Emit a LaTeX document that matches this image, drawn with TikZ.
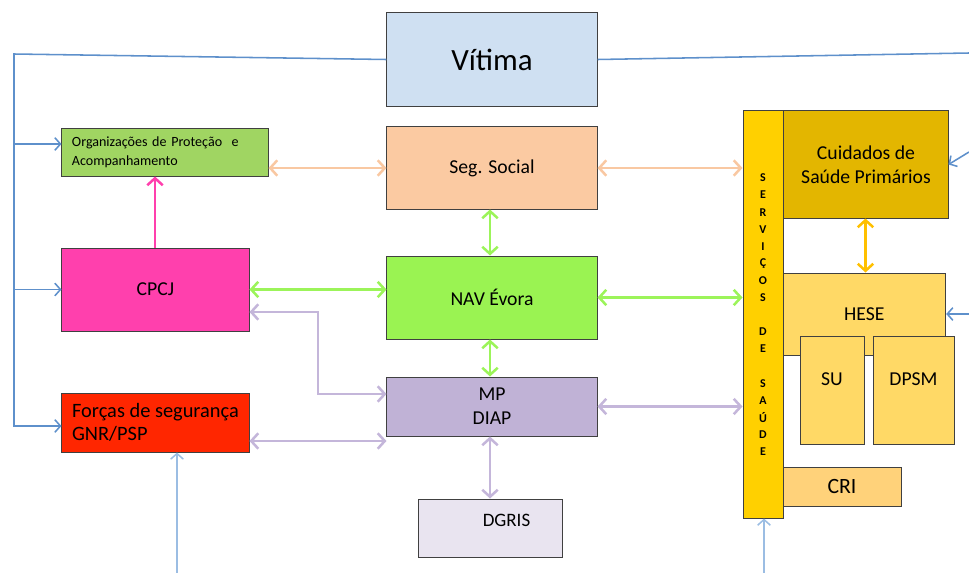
\documentclass[tikz,border=0pt]{standalone}
\usepackage{fontspec}
\setmainfont{Carlito}
\usetikzlibrary{arrows.meta,calc}

\definecolor{corvitima}{HTML}{CFE0F2}
\definecolor{cororg}{HTML}{A0D562}
\definecolor{corseg}{HTML}{FBCAA2}
\definecolor{corcpcj}{HTML}{FF40AD}
\definecolor{cornav}{HTML}{9AF352}
\definecolor{cormp}{HTML}{C0B2D6}
\definecolor{corforcas}{HTML}{FF2600}
\definecolor{cordgris}{HTML}{E9E4F0}
\definecolor{corsrv}{HTML}{FFD000}
\definecolor{corcsp}{HTML}{E3B600}
\definecolor{corhese}{HTML}{FFD966}
\definecolor{corcri}{HTML}{FFD27A}
\definecolor{linhaazul}{HTML}{5E90CB}
\definecolor{azulclaro}{HTML}{9BBDE3}
\definecolor{setapeach}{HTML}{F9C8A2}
\definecolor{setaverde}{HTML}{9CF45A}
\definecolor{setalilas}{HTML}{C4B6DA}
\definecolor{setaamarela}{HTML}{FFC000}

\tikzset{
caixa/.style={draw=black!75,line width=0.7pt,inner sep=2pt,font=\fontsize{14}{17}\selectfont},
azul/.style={draw=linhaazul,line width=1.1pt,>={Straight Barb[length=4pt,width=9pt]}},
seta/.style={line width=1.8pt,>={Straight Barb[length=5pt,width=11pt]}},
letra/.style={font=\fontsize{8.5}{9}\bfseries,inner sep=0pt}
}

\begin{document}
\begin{tikzpicture}[x=0.025cm,y=-0.025cm]
\useasboundingbox (0,0) rectangle (969,573);

% coluna do meio
\node[caixa,fill=corvitima,minimum width=5.25cm,minimum height=2.325cm,font=\fontsize{22}{26}\selectfont] (vitima) at (492,59.5) {Vítima};
\node[caixa,fill=corseg,minimum width=5.25cm,minimum height=2.05cm] (seg) at (492,168) {Seg. Social};
\node[caixa,fill=cornav,minimum width=5.25cm,minimum height=2.075cm] (nav) at (492,297.5) {NAV Évora};
\node[caixa,fill=cormp,minimum width=5.25cm,minimum height=1.475cm,align=center] (mp) at (492,406.5) {MP\\DIAP};
\node[caixa,fill=cordgris,minimum width=3.575cm,minimum height=1.45cm,label={[xshift=0.4cm,yshift=0.18cm,font=\fontsize{13.5}{16}\selectfont]center:DGRIS}] (dgris) at (490.5,528) {};

% coluna da esquerda
\node[caixa,fill=cororg,minimum width=5.15cm,minimum height=1.2cm,text width=4.65cm,align=left,font=\fontsize{10}{13.5}\selectfont] (org) at (165,152) {Organizações de Proteção~ e\\Acompanhamento};
\node[caixa,fill=corcpcj,minimum width=4.675cm,minimum height=2.075cm] (cpcj) at (155.5,289.5) {CPCJ};
\node[caixa,fill=corforcas,minimum width=4.675cm,minimum height=1.475cm,align=left,font=\fontsize{14.5}{16.5}\selectfont] (forcas) at (155.5,422.5) {Forças de segurança\\GNR/PSP};

% serviços de saúde
\node[caixa,fill=corcsp,minimum width=4.1cm,minimum height=2.675cm,align=center] (csp) at (866,164.5) {Cuidados de\\Saúde Primários};
\node[caixa,fill=corhese,minimum width=4.07cm,minimum height=2.05cm] (hese) at (864.3,314) {HESE};
\node[caixa,fill=corhese,minimum width=1.6cm,minimum height=2.675cm,label={[yshift=0.29cm,font=\fontsize{14}{17}\selectfont]center:SU}] (su) at (832,390.5) {};
\node[caixa,fill=corhese,minimum width=2.025cm,minimum height=2.675cm,label={[yshift=0.29cm,font=\fontsize{14}{17}\selectfont]center:DPSM}] (dpsm) at (913.5,390.5) {};
\node[caixa,fill=corcri,minimum width=2.95cm,minimum height=0.975cm,font=\fontsize{15.5}{18}\selectfont] (cri) at (842,486.5) {CRI};
\node[caixa,fill=corsrv,minimum width=1cm,minimum height=10.175cm] (srv) at (763,314.5) {};

\foreach \n/\l in {1/S,2/E,3/R,4/V,5/I,6/Ç,7/O,8/S,10/D,11/E,13/S,14/A,15/Ú,16/D,17/E}
{
\node[letra] (l\n) at (763,{178+(\n-1)*17.1}) {\l};
}

% linhas azuis
\coordinate (tronco) at (14,54);
\coordinate (dir0) at (969,53);
\coordinate (dir1) at (969,152);
\coordinate (dir2) at (969,314);
\coordinate (baixo1) at (177,573);
\coordinate (baixo2) at (764,573);

\draw[azul,->] (vitima.west) -- (tronco) -- (14,426) -- (forcas.west |- 0,426);
\draw[azul,->] (14,144) -- (org.west |- 0,144);
\draw[azul,->] (14,289.5) -- (cpcj.west);
\draw[azul] (vitima.east) -- (dir0);
\draw[azul,->] (dir1) -- (csp.east);
\draw[azul,->] (dir2) -- (hese.east);
\draw[azul,draw=azulclaro,->] (baixo1) -- (forcas.south -| baixo1);
\draw[azul,draw=azulclaro,->] (baixo2) -- (srv.south -| baixo2);

% setas coloridas
\draw[seta,setapeach,<->] (org.east |- seg.west) -- (seg.west);
\draw[seta,setapeach,<->] (seg.east) -- (seg.east -| srv.west);
\draw[seta,corcpcj,->] (cpcj.north -| 155,0) -- (org.south -| 155,0);
\draw[seta,setaverde,<->] (seg.south -| 490,0) -- (nav.north -| 490,0);
\draw[seta,setaverde,<->] (cpcj.east) -- (cpcj.east -| nav.west);
\draw[seta,setaverde,<->] (nav.east) -- (nav.east -| srv.west);
\draw[seta,setaverde,<->] (nav.south -| 490,0) -- (mp.north -| 490,0);
\coordinate (cotovelo) at (318,394);
\draw[seta,setalilas,<->] (cpcj.east |- 0,312) -| (cotovelo) -- (mp.west |- cotovelo);
\draw[seta,setalilas,<->] (forcas.east |- 0,441) -- (mp.west |- 0,441);
\draw[seta,setalilas,<->] (mp.east) -- (mp.east -| srv.west);
\draw[seta,setalilas,<->] (mp.south -| 490,0) -- (dgris.north -| 490,0);
\draw[seta,setaamarela,<->] (csp.south -| 865.5,0) -- (hese.north -| 865.5,0);
\end{tikzpicture}
\end{document}
